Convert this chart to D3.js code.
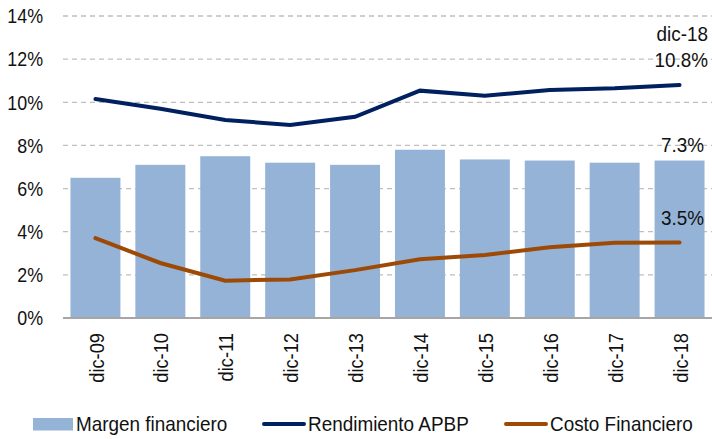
<!DOCTYPE html>
<html><head><meta charset="utf-8">
<script src="https://cdn.jsdelivr.net/npm/d3@7"></script>
<style>
body{margin:0;background:#fff}
text{font-family:"Liberation Sans",Arial,sans-serif;fill:#111}
</style></head><body>
<svg id="c" width="712" height="439"></svg>
<script>
const categories=["dic-09","dic-10","dic-11","dic-12","dic-13","dic-14","dic-15","dic-16","dic-17","dic-18"];
const margen=[6.5,7.1,7.5,7.2,7.1,7.8,7.35,7.3,7.2,7.3];
const rendimiento=[10.15,9.7,9.18,8.95,9.33,10.54,10.3,10.57,10.65,10.8];
const costo=[3.7,2.55,1.73,1.79,2.22,2.72,2.92,3.28,3.49,3.5];
const yTicks=[0,2,4,6,8,10,12,14];
const legendLabels=["Margen financiero","Rendimiento APBP","Costo Financiero"];
const colors={bar:"#95B3D7",rend:"#002060",costo:"#9C4A06"};

const svg=d3.select("#c");
const L=63,R=712,T=16,B=318;
const x=d3.scaleBand().domain(categories).range([L,R]).paddingInner(0.23).paddingOuter(0.115);
const xc=d3.scalePoint().domain(categories).range([L,R]).padding(0.5);
const y=d3.scaleLinear().domain([0,14]).range([B,T]);

function squeeze(sel,f){
  sel.each(function(){const w=this.getComputedTextLength();d3.select(this).attr("textLength",w*f).attr("lengthAdjust","spacingAndGlyphs");});
}

// grid
svg.append("g").selectAll("line").data(yTicks.filter(d=>d>0)).join("line")
 .attr("x1",L).attr("x2",R).attr("y1",d=>y(d)).attr("y2",d=>y(d))
 .attr("stroke","#BFBFBF").attr("stroke-width",1.3).attr("stroke-dasharray","5,4");

// y axis labels
const ya=svg.append("g").attr("transform",`translate(${L},0)`).call(d3.axisLeft(y).tickValues(yTicks).tickFormat(d=>d+"%").tickSize(0).tickPadding(20));
ya.select(".domain").remove();
ya.selectAll("text").attr("font-size",21).attr("font-family",null).attr("fill","#111");
squeeze(ya.selectAll("text"),0.85);

// bars
svg.append("g").selectAll("rect").data(margen).join("rect")
 .attr("x",(d,i)=>x(categories[i])).attr("width",x.bandwidth())
 .attr("y",d=>y(d)).attr("height",d=>y(0)-y(d)).attr("fill",colors.bar);

// baseline
svg.append("line").attr("x1",L).attr("x2",R).attr("y1",y(0)).attr("y2",y(0)).attr("stroke","#A6A6A6").attr("stroke-width",2);

// x axis
const xa=svg.append("g").attr("transform",`translate(0,${y(0)})`).call(d3.axisBottom(xc).tickSize(0));
xa.select(".domain").remove();
xa.selectAll("text").attr("font-size",21).attr("font-family",null).attr("fill","#111")
 .attr("transform","rotate(-90)").attr("text-anchor","end").attr("dx","-15").attr("dy","0.36em").attr("x",0).attr("y",0);
squeeze(xa.selectAll("text"),0.87);

// lines
const line=d3.line().x((d,i)=>xc(categories[i])).y(d=>y(d));
svg.append("path").datum(rendimiento).attr("d",line).attr("fill","none").attr("stroke",colors.rend).attr("stroke-width",4).attr("stroke-linecap","round");
svg.append("path").datum(costo).attr("d",line).attr("fill","none").attr("stroke",colors.costo).attr("stroke-width",4).attr("stroke-linecap","round");

// annotations (horizontally condensed via transform)
const last=categories.length-1;
const annData=[
  {t:categories[last],x:708,y:41},
  {t:rendimiento[last].toFixed(1)+"%",x:708,y:67},
  {t:margen[last].toFixed(1)+"%",x:704,y:152},
  {t:costo[last].toFixed(1)+"%",x:704,y:225}
];
svg.append("g").selectAll("text").data(annData).join("text")
 .attr("font-size",21).attr("text-anchor","end")
 .attr("transform",d=>`translate(${d.x},${d.y}) scale(0.9,1)`)
 .text(d=>d.t);

// legend
const lg=svg.append("g").attr("font-size",21);
lg.append("rect").attr("x",33).attr("y",418).attr("width",40).attr("height",12.5).attr("fill",colors.bar);
lg.append("text").attr("x",76).attr("y",431).text(legendLabels[0]);
lg.append("line").attr("x1",264).attr("x2",304).attr("y1",424).attr("y2",424).attr("stroke",colors.rend).attr("stroke-width",4).attr("stroke-linecap","round");
lg.append("text").attr("x",308).attr("y",431).text(legendLabels[1]);
lg.append("line").attr("x1",506).attr("x2",546).attr("y1",424).attr("y2",424).attr("stroke",colors.costo).attr("stroke-width",4).attr("stroke-linecap","round");
lg.append("text").attr("x",550).attr("y",431).text(legendLabels[2]);
squeeze(lg.selectAll("text"),0.9);
</script></body></html>
